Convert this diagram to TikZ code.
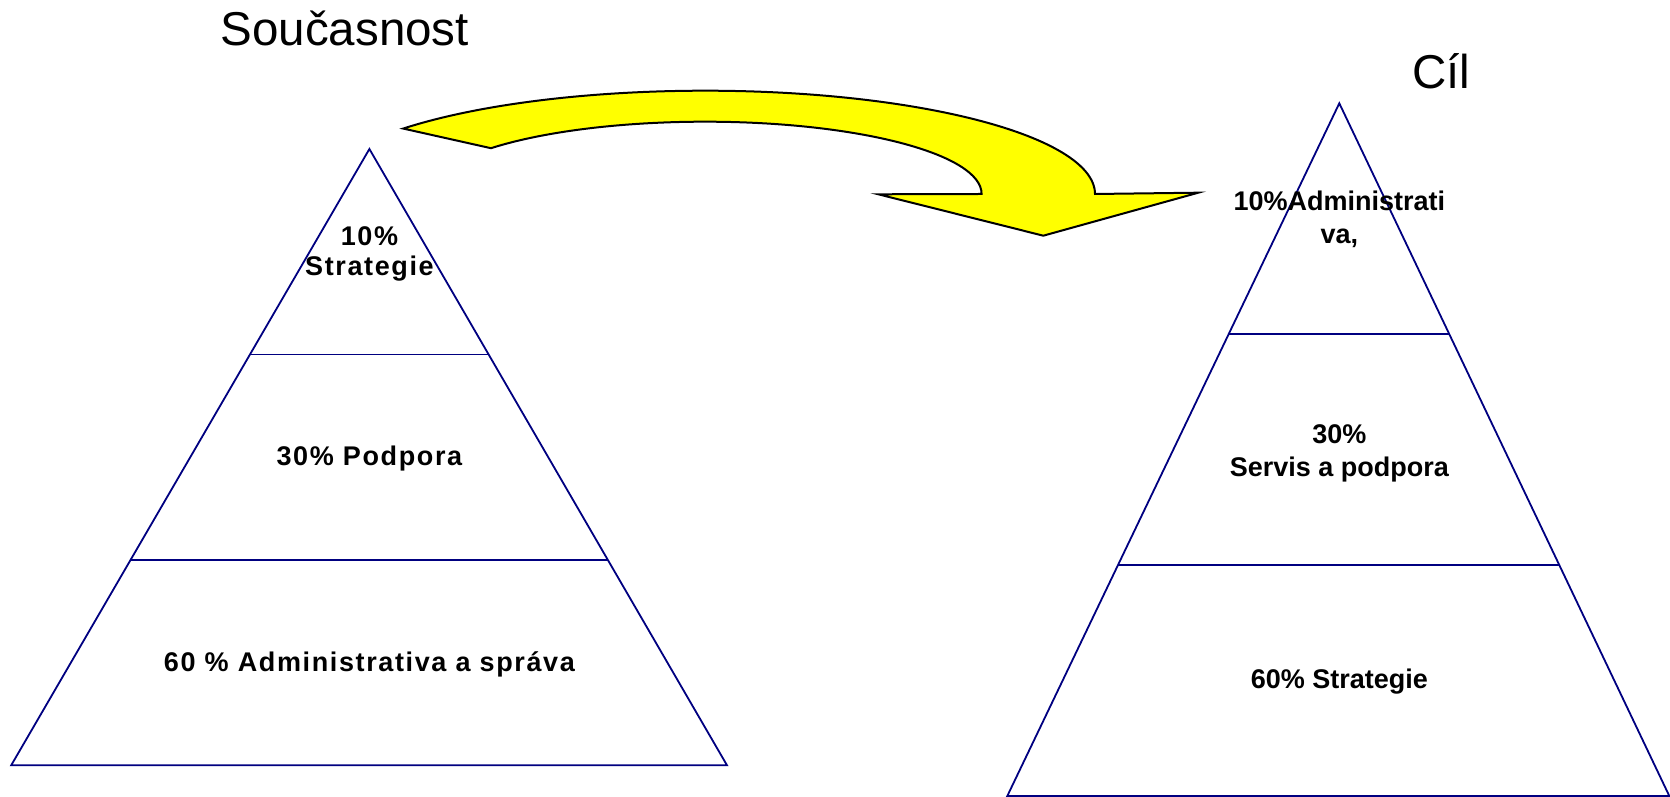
\documentclass[tikz,border=0pt]{standalone}
\usepackage{fontspec}
\setmainfont{Liberation Sans}
\newfontfamily\spacedfont{Liberation Sans}[LetterSpace=6]
\usetikzlibrary{calc, positioning}

\definecolor{pyrblue}{RGB}{0,0,128}
\definecolor{arrowyellow}{RGB}{255,255,0}

\begin{document}
\begin{tikzpicture}[
    x=0.5pt, y=0.5pt,
    edge/.style={draw=pyrblue, line width=0.9pt, line join=miter},
    title/.style={font=\fontsize{23.75}{28}\selectfont, anchor=base, inner sep=0pt},
    tiertext/.style={font=\bfseries\fontsize{13.5}{16.5}\selectfont,
                     align=center, anchor=base, inner sep=0pt},
    lefttext/.style={tiertext, font=\spacedfont\bfseries\fontsize{13.5}{15}\selectfont},
    bigarrow/.style={draw=black, line width=1pt, fill=arrowyellow, line join=miter}
]
\useasboundingbox (0,0) rectangle (1670,797);

%% ── Current state pyramid ───────────────────────────────────────────────────
\coordinate (la)  at (369.4,648);
\coordinate (lbl) at (11.2,31.7);
\coordinate (lbr) at (727,31.7);
\coordinate (l1l) at ($(la)!1/3!(lbl)$);
\coordinate (l1r) at ($(la)!1/3!(lbr)$);
\coordinate (l2l) at ($(la)!2/3!(lbl)$);
\coordinate (l2r) at ($(la)!2/3!(lbr)$);

\draw[edge] (la) -- (lbr) -- (lbl) -- cycle;
\draw[edge] (l1l) -- (l1r);
\draw[edge] (l2l) -- (l2r);

\node[title] (now) at (344.7,751) {Současnost};

% base anchor sits on the last line
\node[lefttext] (ltop) at (369.4,521) {10\%\\Strategie};
\node[lefttext] (lmid) at (369.4,331) {30\% Podpora};
\node[lefttext] (lbot) at (369.4,125) {60 \% Administrativa a správa};

%% ── Target pyramid ──────────────────────────────────────────────────────────
\coordinate (ra)  at (1339.3,693.7);
\coordinate (rbl) at (1007.3,1);
\coordinate (rbr) at (1669.3,1);
\coordinate (r1l) at ($(ra)!1/3!(rbl)$);
\coordinate (r1r) at ($(ra)!1/3!(rbr)$);
\coordinate (r2l) at ($(ra)!2/3!(rbl)$);
\coordinate (r2r) at ($(ra)!2/3!(rbr)$);

\draw[edge] (ra) -- (rbr) -- (rbl) -- cycle;
\draw[edge] (r1l) -- (r1r);
\draw[edge] (r2l) -- (r2r);

\node[title] (goal) at (1441.5,708) {Cíl};

\node[tiertext] (rtop) at (1339.3,553) {10\%Administrati\\va,};
\node[tiertext] (rmid) at (1339.3,320) {30\%\\Servis a podpora};
\node[tiertext] (rbot) at (1339.3,108) {60\% Strategie};

%% ── Curved arrow ────────────────────────────────────────────────────────────
\coordinate (arcc) at (705,603);
\draw[bigarrow] ([shift={(140.7:195pt and 51.65pt)}]arcc)
    arc[start angle=140.7, end angle=0, x radius=195pt, y radius=51.65pt]
    -- (1198.3,604.3) -- (1043.3,561.3) -- (878.3,602.7) -- (981.6,603)
    arc[start angle=0, end angle=140.7, x radius=138.3pt, y radius=36.15pt]
    -- cycle;

\end{tikzpicture}
\end{document}
